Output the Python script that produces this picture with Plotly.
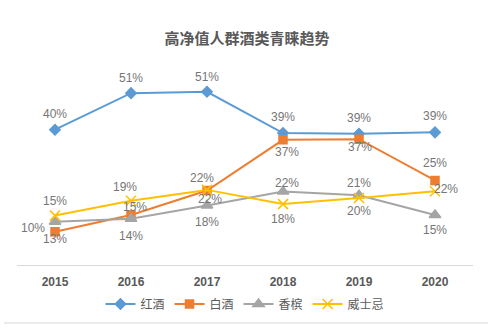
import plotly.graph_objects as go

years = ["2015", "2016", "2017", "2018", "2019", "2020"]
red_wine = [0.400, 0.508, 0.512, 0.390, 0.388, 0.392]
baijiu = [0.098, 0.148, 0.220, 0.370, 0.372, 0.250]
champagne = [0.128, 0.137, 0.176, 0.217, 0.206, 0.148]
whisky = [0.146, 0.190, 0.222, 0.180, 0.198, 0.218]

names = ["红酒", "白酒", "香槟", "威士忌"]
series = [red_wine, baijiu, champagne, whisky]
colors = ["#5B9BD5", "#ED7D31", "#A5A5A5", "#FFC000"]
symbols = ["diamond", "square", "triangle-up", "x-thin"]
sizes = [8, 8, 10, 10]
# label offsets (dx, dy) in pixels from each point
offsets = [
    [(0, 16), (0, 15), (0, 15), (0, 16), (0, 16), (0, 16)],
    [(-22, 4), (4, 8), (3, -8), (4, -12), (1, -8), (0, 17)],
    [(0, -17), (0, -17), (0, -17), (4, 9), (0, 12), (0, -15)],
    [(0, 15), (-6, 14), (-5, 12), (0, -15), (0, -13), (11, 2)],
]

fig = go.Figure()
annotations = []
for name, vals, col, sym, sz, offs in zip(names, series, colors, symbols, sizes, offsets):
    fig.add_trace(go.Scatter(
        x=years, y=vals, name=name, mode="lines+markers",
        line=dict(color=col, width=2),
        marker=dict(symbol=sym, size=sz, color=col, line=dict(color=col, width=1.5)),
        cliponaxis=False,
    ))
    for i, (v, (dx, dy)) in enumerate(zip(vals, offs)):
        annotations.append(dict(
            x=i, y=v, xref="x", yref="y", text=f"{v:.0%}", showarrow=False,
            xanchor="center", yanchor="middle", xshift=dx, yshift=dy,
            font=dict(size=12, color="#767676", family="Liberation Sans, Arial, sans-serif"),
        ))

fig.update_layout(
    width=494, height=336,
    margin=dict(l=17, r=21, t=62, b=71),
    paper_bgcolor="white", plot_bgcolor="white",
    title=dict(text="<b>高净值人群酒类青睐趋势</b>", x=0.5, xanchor="center", y=1 - 39/336, yanchor="middle",
               font=dict(size=15, color="#595959", family="Noto Sans CJK SC, sans-serif")),
    showlegend=True,
    legend=dict(orientation="h", x=0.5, xanchor="center", y=-0.192, yanchor="middle",
                font=dict(size=12, color="#595959", family="Noto Sans CJK SC, sans-serif"),
                itemwidth=30, tracegroupgap=0),
    font=dict(family="Liberation Sans, Noto Sans CJK SC, sans-serif"),
    annotations=annotations,
)
fig.update_xaxes(type="category", range=[-0.5, 5.5], showgrid=False, zeroline=False,
                 showline=True, linecolor="#D9D9D9", linewidth=1, ticks="",
                 ticklabelstandoff=6,
                 tickfont=dict(size=12, color="#595959", family="Liberation Sans, Arial, sans-serif"),
                 tickprefix="<b>", ticksuffix="</b>")
fig.update_yaxes(range=[0, 0.6], showgrid=False, zeroline=False, showticklabels=False, showline=False)

fig.add_shape(type="line", xref="paper", yref="paper", x0=-0.0285, x1=1.033, y0=-0.2857, y1=-0.2857,
              line=dict(color="#D9D9D9", width=1))

fig.write_html("out.html")
